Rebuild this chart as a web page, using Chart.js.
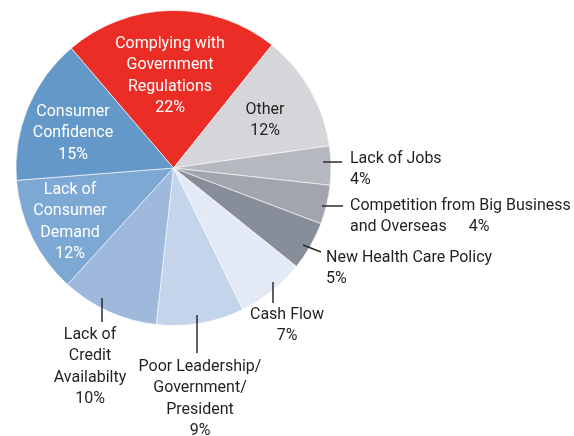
<!DOCTYPE html>
<html>
<head>
<meta charset="utf-8">
<script src="https://cdn.jsdelivr.net/npm/chart.js@4/dist/chart.umd.min.js"></script>
<style>
  html, body { margin: 0; padding: 0; background: #ffffff; }
  #contenedor { width: 574px; height: 436px; position: relative; }
</style>
</head>
<body>
<div id="contenedor"><canvas id="graficaPastel"></canvas></div>
<script>
const categorias = [
    'Complying with Government Regulations', 'Other', 'Lack of Jobs',
    'Competition from Big Business and Overseas', 'New Health Care Policy',
    'Cash Flow', 'Poor Leadership/Government/President',
    'Lack of Credit Availabilty', 'Lack of Consumer Demand', 'Consumer Confidence'
];
const porcentajes = [22, 12, 4, 4, 5, 7, 9, 10, 12, 15];
const coloresRebanada = [
    '#ec2d25', '#d6d6da', '#b6b8bf', '#a3a5ae', '#888d9a',
    '#e3eaf5', '#c4d4ea', '#9eb9dc', '#7ea8d4', '#6498c9'
];

// renglones de cada etiqueta (el porcentaje se agrega al final)
const renglones = [
    ['Complying with', 'Government', 'Regulations'],
    ['Other'],
    ['Lack of Jobs'],
    ['Competition from Big Business', 'and Overseas'],
    ['New Health Care Policy'],
    ['Cash Flow'],
    ['Poor Leadership/', 'Government/', 'President'],
    ['Lack of', 'Credit', 'Availabilty'],
    ['Lack of', 'Consumer', 'Demand'],
    ['Consumer', 'Confidence']
];

// posición de etiquetas y líneas guía, relativa al centro del pastel
const BLANCO = '#ffffff', OSCURO = '#231f20';
const ubicaciones = [
    { x: -3.5,  y: -124, align: 'center', color: BLANCO },
    { x: 91.5,  y: -58,  align: 'center', color: OSCURO },
    { x: 176.5, y: -9,   align: 'left',   color: OSCURO, linea: [149.5, -6, 168.5, -6] },
    { x: 176.5, y: 38,   align: 'left',   color: OSCURO, linea: [148.5, 38, 169.5, 38], pctX: 305.5 },
    { x: 152.5, y: 90,   align: 'left',   color: OSCURO, linea: [129.5, 77, 147.5, 84] },
    { x: 113.5, y: 147,  align: 'center', color: OSCURO, linea: [99.5, 114, 99.5, 135] },
    { x: 26.5,  y: 199,  align: 'center', color: OSCURO, linea: [23.5, 147, 23.5, 185] },
    { x: -83.5, y: 167,  align: 'center', color: OSCURO, linea: [-71.5, 130, -71.5, 154] },
    { x: -103.5, y: 22,  align: 'center', color: BLANCO },
    { x: -100.5, y: -56, align: 'center', color: BLANCO }
];
const interlineado = 21.3;

const etiquetasPastel = {
    id: 'etiquetasPastel',
    afterDatasetsDraw(chart) {
        const ctx = chart.ctx;
        const arco = chart.getDatasetMeta(0).data[0];
        const cx = arco.x, cy = arco.y;
        ctx.save();
        ctx.font = '16px Roboto';
        ctx.textBaseline = 'middle';
        ubicaciones.forEach((u, i) => {
            const pct = porcentajes[i] + '%';
            if (u.linea) {
                ctx.strokeStyle = '#2b2b2b';
                ctx.lineWidth = 1.5;
                ctx.beginPath();
                ctx.moveTo(cx + u.linea[0], cy + u.linea[1]);
                ctx.lineTo(cx + u.linea[2], cy + u.linea[3]);
                ctx.stroke();
            }
            ctx.fillStyle = u.color;
            ctx.textAlign = u.align;
            const lineas = renglones[i];
            lineas.forEach((t, j) => {
                ctx.fillText(t, cx + u.x, cy + u.y + j * interlineado);
            });
            if (u.pctX !== undefined) {
                ctx.textAlign = 'center';
                ctx.fillText(pct, cx + u.pctX, cy + u.y + (lineas.length - 1) * interlineado);
            } else {
                ctx.fillText(pct, cx + u.x, cy + u.y + lineas.length * interlineado);
            }
        });
        ctx.restore();
    }
};

const ctx = document.getElementById('graficaPastel').getContext('2d');
new Chart(ctx, {
    type: 'pie',
    data: {
        labels: categorias,
        datasets: [{
            data: porcentajes,
            backgroundColor: coloresRebanada,
            borderColor: 'rgba(255,255,255,0.6)',
            borderWidth: 1,
            hoverOffset: 0,
            offset: 0
        }]
    },
    options: {
        responsive: true,
        maintainAspectRatio: false,
        animation: false,
        rotation: -40.5,
        events: [],
        layout: { padding: { left: 15, top: 10, right: 242, bottom: 110 } },
        plugins: {
            legend: { display: false },
            tooltip: { enabled: false }
        }
    },
    plugins: [etiquetasPastel]
});
</script>
</body>
</html>
